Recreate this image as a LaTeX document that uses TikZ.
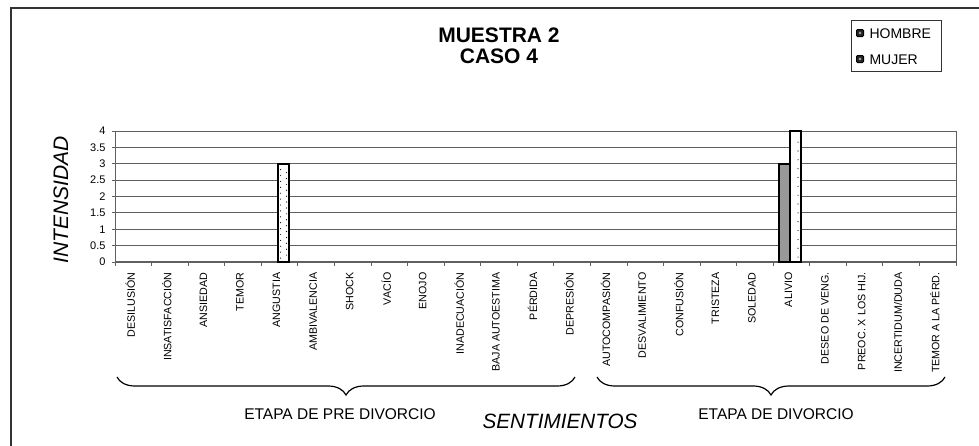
\documentclass[tikz,border=0pt]{standalone}
\usepackage{fontspec}
\setmainfont{Liberation Sans}
\usetikzlibrary{decorations.pathreplacing}

\begin{document}
\begin{tikzpicture}[x=1pt,y=-1pt,line width=1pt,
  gridline/.style={draw=gray!75!black,line width=0.8pt},
  ticklabel/.style={font=\fontsize{11}{11}\selectfont,inner sep=0pt,anchor=east},
  catlabel/.style={font=\fontsize{10.7}{10.7}\selectfont,inner sep=0pt,rotate=90,anchor=east},
  hombre/.style={fill=gray!80,draw=black,line width=1.6pt},
  mujer/.style={draw=black,line width=2pt},
  stagebrace/.style={decorate,decoration={brace,mirror,amplitude=18pt},line width=1.2pt},
  legendmark/.style={fill=black!85,draw=black,rounded corners=1pt,minimum size=7pt,inner sep=0pt}]

\useasboundingbox (0,0) rectangle (979,445);
% frame
\draw[draw=black!80,line width=1.5pt] (11,470) -- (11,8) -- (1000,8);

% title and legend
\node[font=\bfseries\fontsize{21}{21}\selectfont,anchor=base] (title) at (499,42) {MUESTRA 2};
\node[font=\bfseries\fontsize{21}{21}\selectfont,anchor=base] (subtitle) at (499,63) {CASO 4};
\draw[draw=black!80,line width=0.8pt] (851,20) rectangle (941,71);
\node[legendmark] (markh) at (860,33) {};
\node[legendmark] (markm) at (860,59) {};
\fill[gray!70] (markh.center) circle[radius=1.3pt];
\fill[gray!60] (markm.center) circle[radius=1.3pt];
\node[font=\fontsize{14}{14}\selectfont,anchor=base west,inner sep=0pt] (legh) at (869,38) {HOMBRE};
\node[font=\fontsize{14}{14}\selectfont,anchor=base west,inner sep=0pt] (legm) at (869,64) {MUJER};

% axis titles
\node[font=\itshape\fontsize{21}{21}\selectfont,rotate=90] (ytitle) at (61,200) {INTENSIDAD};
\node[font=\itshape\fontsize{20.7}{20.7}\selectfont,anchor=base] (xtitle) at (560,428) {SENTIMIENTOS};

\begin{scope}[shift={(115,262)},x=36.565pt,y=32.75pt]
  \foreach \v in {0.5,1,...,4}
    \draw[gridline] (0,\v) -- (23,\v);
  \draw[gridline] (23,0) -- (23,4);
  \foreach \v/\txt [count=\k] in {0/0,0.5/0.5,1/1,1.5/1.5,2/2,2.5/2.5,3/3,3.5/3.5,4/4}{
    \draw[gridline] (0,\v) -- ++(-3pt,0);
    \node[ticklabel] (ytick\k) at ([xshift=-9pt]0,\v) {\txt};
  }
  \draw[gridline] (0,0) -- (0,4);
  \draw[gridline,line width=1.2pt] (0,0) -- (23,0);
  \foreach \i in {0,...,23}
    \draw[gridline] (\i,0) -- ++(0,-4pt);

  % bars
  \fill[white] (4.46,0) rectangle (4.76,3);
  \foreach \t in {0.12,0.3,...,2.9} \fill (4.53,\t) circle[radius=0.6pt];
  \foreach \t in {0.21,0.39,...,2.9} \fill (4.69,\t) circle[radius=0.6pt];
  \draw[mujer] (4.46,0) rectangle (4.76,3);

  \draw[hombre] (18.16,0) rectangle (18.46,3);
  \fill[white] (18.46,0) rectangle (18.76,4);
  \foreach \t in {0.15,0.42,...,3.9} \fill (18.68,\t) circle[radius=0.6pt];
  \draw[mujer] (18.46,0) rectangle (18.76,4);

  % category labels
  \foreach \lab [count=\i] in {DESILUSIÓN,INSATISFACCIÓN,ANSIEDAD,TEMOR,ANGUSTIA,
      AMBIVALENCIA,SHOCK,VACÍO,ENOJO,INADECUACIÓN,BAJA AUTOESTIMA,PÉRDIDA,DEPRESIÓN,
      AUTOCOMPASIÓN,DESVALIMIENTO,CONFUSIÓN,TRISTEZA,SOLEDAD,ALIVIO,DESEO DE VENG.,
      PREOC. X LOS HIJ.,INCERTIDUM/DUDA,TEMOR A LA PÉRD.}
    \node[catlabel] (cat\i) at ([xshift=-3pt,yshift=-10pt]\i-0.5,0) {\lab};
\end{scope}

% stages
\coordinate (prea) at (117,377);
\coordinate (preb) at (575,377);
\coordinate (diva) at (597,377);
\coordinate (divb) at (945,377);
\draw[stagebrace] (prea) -- (preb);
\draw[stagebrace] (diva) -- (divb);
\node[font=\fontsize{15.5}{15.5}\selectfont,anchor=base] (prelab) at (340,419) {ETAPA DE PRE DIVORCIO};
\node[font=\fontsize{15.5}{15.5}\selectfont,anchor=base] (divlab) at (776,419) {ETAPA DE DIVORCIO};
\end{tikzpicture}
\end{document}
